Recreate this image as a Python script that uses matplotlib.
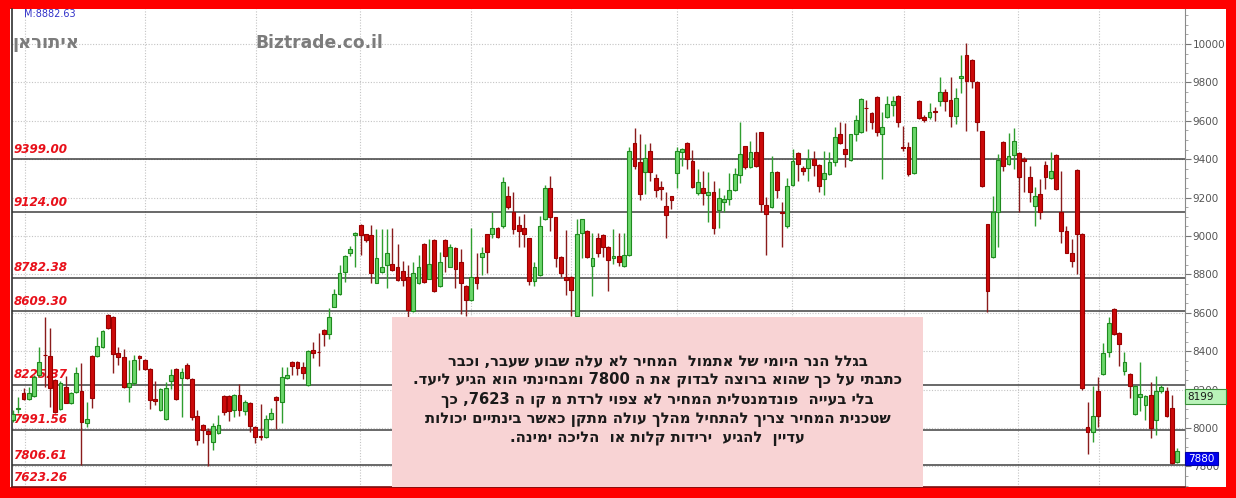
import re
import matplotlib
matplotlib.use("Agg")
import matplotlib.pyplot as plt
from matplotlib.patches import Rectangle
from matplotlib.ticker import MultipleLocator, FixedLocator

# ---------------- data ----------------
opens = [8042, 8099, 8183, 8151, 8167, 8277, 8381, 8376, 8251, 8099, 8214, 8131, 8188, 8193, 8026, 8376, 8376, 8423, 8590, 8580,
         8392, 8371, 8214, 8235, 8376, 8355, 8308, 8151, 8094, 8047, 8245, 8308, 8261, 8329, 8256, 8063, 8016, 7984, 7927, 7974,
         8167, 8167, 8094, 8172, 8089, 8131, 8005, 7958, 7953, 8047, 8162, 8136, 8261, 8345, 8345, 8319, 8225, 8407, 8397, 8512,
         8491, 8632, 8700, 8815, 8909, 9003, 9055, 9008, 9003, 8757, 8815, 8851, 8856, 8836, 8820, 8789, 8611, 8757, 8956, 8778,
         8977, 8742, 8977, 8841, 8940, 8862, 8742, 8668, 8789, 8893, 9008, 9013, 9044, 9050, 9206, 9123, 9055, 9044, 8987, 8768,
         8799, 9086, 9248, 9097, 8893, 8789, 8789, 8585, 9018, 9024, 8846, 8987, 9003, 8945, 8883, 8898, 8846, 8903, 9483, 9384,
         9332, 9441, 9300, 9253, 9154, 9206, 9326, 9436, 9483, 9389, 9222, 9248, 9212, 9227, 9133, 9175, 9191, 9238, 9316, 9467,
         9358, 9436, 9540, 9159, 9149, 9332, 9123, 9050, 9264, 9431, 9352, 9352, 9399, 9368, 9295, 9321, 9384, 9530, 9452, 9394,
         9530, 9540, 9666, 9640, 9723, 9530, 9619, 9681, 9729, 9462, 9462, 9326, 9702, 9619, 9619, 9650, 9702, 9749, 9708, 9624,
         9822, 9943, 9916, 9802, 9546, 9060, 8893, 9123, 9488, 9373, 9420, 9431, 9399, 9305, 9154, 9217, 9368, 9300, 9420, 9123,
         9024, 8914, 9342, 9013, 8005, 7979, 8193, 8282, 8397, 8621, 8496, 8298, 8282, 8073, 8162, 8120, 8172, 8042, 8193, 8193,
         8104, 7822]
highs = [8094, 8162, 8209, 8214, 8277, 8423, 8580, 8522, 8256, 8245, 8272, 8188, 8319, 8339, 8136, 8381, 8475, 8512, 8595, 8582,
         8423, 8413, 8355, 8381, 8381, 8360, 8313, 8245, 8209, 8240, 8308, 8313, 8313, 8339, 8258, 8094, 8021, 8000, 8026, 8068,
         8172, 8172, 8178, 8230, 8146, 8136, 8010, 8125, 8068, 8104, 8165, 8319, 8319, 8350, 8350, 8345, 8407, 8449, 8496, 8517,
         8627, 8726, 8851, 8903, 8950, 9020, 9060, 9013, 9055, 9039, 9034, 9034, 9044, 8956, 8872, 8851, 8862, 8903, 8966, 8982,
         8982, 8919, 8982, 8956, 8945, 8930, 8747, 9044, 8914, 8945, 9013, 9123, 9047, 9305, 9258, 9227, 9102, 9117, 8992, 8862,
         9102, 9264, 9311, 9099, 8898, 9029, 8794, 9086, 9091, 9029, 9018, 9018, 9008, 8950, 9034, 9018, 9018, 9462, 9561, 9530,
         9478, 9483, 9321, 9285, 9227, 9208, 9462, 9457, 9488, 9446, 9347, 9337, 9332, 9285, 9248, 9212, 9326, 9352, 9593, 9469,
         9493, 9540, 9542, 9201, 9415, 9337, 9175, 9300, 9452, 9436, 9363, 9452, 9441, 9373, 9441, 9436, 9567, 9593, 9588, 9532,
         9629, 9718, 9708, 9645, 9729, 9645, 9729, 9729, 9734, 9572, 9488, 9569, 9708, 9629, 9692, 9671, 9828, 9765, 9828, 9770,
         9943, 10005, 9921, 9807, 9548, 9065, 9206, 9426, 9493, 9535, 9561, 9436, 9410, 9363, 9253, 9295, 9389, 9436, 9426, 9337,
         9050, 8982, 9347, 9018, 8136, 8219, 8266, 8444, 8580, 8627, 8498, 8397, 8287, 8225, 8345, 8172, 8240, 8272, 8225, 8214,
         8172, 7896]
lows = [8031, 8078, 8146, 8148, 8162, 8266, 8214, 8110, 8078, 8094, 8128, 8125, 8183, 7807, 8005, 8104, 8371, 8418, 8517, 8287,
        8329, 8210, 8136, 8225, 8303, 8303, 8099, 8120, 8089, 8042, 8204, 8146, 8057, 8256, 8042, 7911, 7922, 7802, 7885, 7969,
        8068, 8037, 8057, 8063, 8068, 7979, 7922, 7937, 7948, 8042, 7995, 8026, 8256, 8277, 8277, 8256, 8219, 8366, 8324, 8428,
        8465, 8632, 8695, 8762, 8898, 8836, 8903, 8971, 8757, 8755, 8809, 8731, 8820, 8768, 8742, 8580, 8606, 8752, 8757, 8775,
        8710, 8736, 8815, 8836, 8731, 8595, 8585, 8663, 8726, 8799, 8809, 8992, 8992, 9044, 9138, 9008, 8945, 8945, 8747, 8742,
        8794, 9081, 9024, 8841, 8789, 8695, 8585, 8580, 8888, 8888, 8689, 8893, 8893, 8715, 8856, 8846, 8841, 8898, 9347, 9185,
        9217, 9285, 9201, 9185, 8992, 9138, 9248, 9363, 9347, 9248, 9212, 9159, 9071, 9013, 9044, 9123, 9159, 9232, 9274, 9347,
        9352, 9358, 9123, 8903, 9144, 9196, 8945, 9044, 9258, 9285, 9316, 9285, 9311, 9227, 9212, 9316, 9363, 9478, 9358, 9389,
        9493, 9538, 9546, 9556, 9520, 9295, 9614, 9624, 9567, 9441, 9311, 9321, 9608, 9593, 9608, 9598, 9676, 9650, 9567, 9582,
        9744, 9546, 9770, 9546, 9253, 8606, 8888, 8945, 9337, 9368, 9347, 9123, 9227, 9175, 9050, 9086, 9243, 9295, 9238, 8966,
        8909, 8841, 8804, 8198, 7864, 7927, 8005, 8277, 8371, 8486, 8324, 8277, 8157, 8068, 8089, 8042, 7948, 7963, 8183, 8057,
        7812, 7817]
closes = [8073, 8102, 8151, 8183, 8266, 8345, 8378, 8209, 8084, 8235, 8131, 8183, 8287, 8031, 8047, 8157, 8428, 8507, 8522, 8386,
          8371, 8214, 8235, 8355, 8366, 8308, 8146, 8141, 8204, 8209, 8277, 8151, 8292, 8261, 8057, 7937, 7990, 7969, 8010, 8016,
          8084, 8089, 8172, 8094, 8136, 8010, 7953, 7953, 8047, 8078, 8146, 8266, 8277, 8324, 8313, 8287, 8402, 8392, 8395, 8491,
          8580, 8700, 8809, 8898, 8930, 9018, 9003, 8977, 8809, 8888, 8841, 8914, 8825, 8773, 8773, 8616, 8809, 8836, 8762, 8856,
          8715, 8862, 8898, 8945, 8830, 8757, 8668, 8789, 8757, 8914, 8919, 9044, 8997, 9279, 9149, 9034, 9024, 9008, 8768, 8841,
          9050, 9248, 9097, 8888, 8809, 8773, 8721, 9013, 9086, 8893, 8883, 8909, 8945, 8877, 8898, 8867, 8903, 9441, 9363, 9217,
          9405, 9332, 9238, 9243, 9107, 9185, 9441, 9452, 9399, 9253, 9279, 9222, 9227, 9044, 9196, 9191, 9238, 9321, 9426, 9358,
          9436, 9363, 9165, 9117, 9332, 9238, 9118, 9258, 9389, 9373, 9337, 9399, 9368, 9258, 9326, 9384, 9514, 9483, 9426, 9530,
          9603, 9713, 9664, 9593, 9540, 9567, 9687, 9702, 9593, 9460, 9321, 9567, 9614, 9603, 9645, 9645, 9749, 9702, 9624, 9718,
          9833, 9807, 9807, 9593, 9258, 8715, 9123, 9394, 9363, 9415, 9493, 9305, 9389, 9227, 9206, 9123, 9305, 9337, 9243, 9024,
          8914, 8872, 9008, 8209, 7979, 8063, 8063, 8392, 8548, 8491, 8439, 8345, 8219, 8219, 8178, 8167, 8000, 8193, 8214, 8063,
          7817, 7880]

level_values = [9399.00, 9124.00, 8782.38, 8609.30, 8225.37, 7991.56, 7806.61, 7623.26]
month_breaks = [2.3, 25.1, 46.1, 65.9, 86.9, 105.9, 126.1, 147.9, 169.2, 190.8, 206.2]
y_ticks = list(range(7800, 10001, 200))
ma_value = "8199"
last_value = "7880"
m_text = "M:8882.63"
title_he = "איתוראן"
site = "Biztrade.co.il"
note_lines = [
    "בגלל הנר היומי של אתמול  המחיר לא עלה שבוע שעבר, וכבר",
    "כתבתי על כך שהוא ברוצה לבדוק את ה 7800 ומבחינתי הוא הגיע ליעד.",
    "בלי בעייה  פונדמנטלית המחיר לא צפוי לרדת מ קו ה 7623, כך",
    "שטכנית המחיר צריך להתחיל מהלך עולה מתקן כאשר בינתיים יכולות",
    "עדיין  להגיע  ירידות קלות או  הליכה ימינה.",
]


def visual(s):
    # matplotlib lays glyphs out left-to-right: reverse Hebrew, keep numbers LTR
    r = s[::-1]
    return re.sub(r"\d+", lambda m: m.group(0)[::-1], r)


W, H = 1236, 498
fig = plt.figure(figsize=(W / 100, H / 100), dpi=100, facecolor="#ff0000")


def fx(px):
    return px / W


def fy(py):
    return 1 - py / H


# white inner panel
fig.patches.append(Rectangle((fx(10), fy(487)), fx(1226) - fx(10), fy(9) - fy(487),
                             transform=fig.transFigure, facecolor="white", edgecolor="none", zorder=-5))

ax = fig.add_axes([fx(12), fy(487), fx(1185) - fx(12), fy(9) - fy(487)])
ax.set_zorder(1)
ax.set_facecolor("white")

n = len(opens)
xs = list(range(n))
ax.set_xlim(-0.19, 222.5)
ax.set_ylim(7693, 10182)

# grid
for yv in y_ticks:
    ax.axhline(yv, color="#c4c4c4", lw=0.8, ls=(0, (1, 1.5)), zorder=1)
for xv in month_breaks:
    ax.axvline(xv, color="#c4c4c4", lw=0.8, ls=(0, (1, 1.5)), zorder=1)

# horizontal levels
for lv in level_values:
    ax.axhline(lv, color="#404040", lw=1.1, zorder=2)
    ypos = max(lv, 7693)
    ax.annotate(f"{lv:.2f}", xy=(0, ypos), xycoords=("axes fraction", "data"),
                xytext=(1, 2.5 if lv > 7693 else 2), textcoords="offset points",
                ha="left", va="bottom", color="#e8101a", fontsize=8.6,
                fontweight="bold", fontstyle="italic", zorder=2)

# candles
up_x, up_b, up_h, dn_x, dn_b, dn_h = [], [], [], [], [], []
for i in xs:
    o, c = opens[i], closes[i]
    lo_b, hi_b = min(o, c), max(o, c)
    h = max(hi_b - lo_b, 3)
    if c >= o:
        up_x.append(i); up_b.append(lo_b); up_h.append(h)
        ax.vlines(i, lows[i], highs[i], color="#2f9e2f", lw=1, zorder=3)
    else:
        dn_x.append(i); dn_b.append(lo_b); dn_h.append(h)
        ax.vlines(i, lows[i], highs[i], color="#8a1c1c", lw=1, zorder=3)
ax.bar(up_x, up_h, bottom=up_b, width=0.72, color="#6ad66a", edgecolor="#1f8a1f", lw=0.8, zorder=4)
ax.bar(dn_x, dn_h, bottom=dn_b, width=0.72, color="#cc0a0a", edgecolor="#9a0000", lw=0.8, zorder=4)

# axes styling
ax.yaxis.tick_right()
ax.yaxis.set_major_locator(FixedLocator(y_ticks))
ax.yaxis.set_minor_locator(MultipleLocator(50))
ax.tick_params(axis="y", which="major", length=4, color="#777777", labelcolor="#555555",
               labelsize=7.5, pad=1.5, direction="out")
ax.tick_params(axis="y", which="minor", length=2.5, color="#999999")
ax.set_yticklabels([str(v) for v in y_ticks])
ax.set_xticks([])
ax.spines["top"].set_visible(False)
ax.spines["left"].set_color("#303030")
ax.spines["bottom"].set_color("#7a1010")
ax.spines["right"].set_color("#8a8a8a")
ax.spines["left"].set_linewidth(1.2)
ax.spines["bottom"].set_linewidth(1.2)

# note box
bx0 = (392 - 12) / (1185 - 12)
bx1 = (923 - 12) / (1185 - 12)
by1 = (487 - 317) / (487 - 9)
ax.add_patch(Rectangle((bx0, 0), bx1 - bx0, by1, transform=ax.transAxes,
                       facecolor="#f8d3d4", edgecolor="none", zorder=6))
ax.text((bx0 + bx1) / 2, (487 - 400) / (487 - 9), "\n".join(visual(l) for l in note_lines),
        transform=ax.transAxes, ha="center", va="center", multialignment="center",
        fontsize=10.6, fontweight="bold", color="#1a1a1a", linespacing=1.27,
        family=["DejaVu Sans"], zorder=7)

# header texts
fig.text(fx(24), fy(14), m_text, color="#3030c8", fontsize=7, ha="left", va="center", zorder=10)
fig.text(fx(12), fy(43), visual(title_he), color="#7c7c7c", fontsize=13, fontweight="bold",
         ha="left", va="center", zorder=10)
fig.text(fx(255), fy(43), site, color="#7c7c7c", fontsize=12.3, fontweight="bold",
         ha="left", va="center", zorder=10)

# right-side value boxes
fig.patches.append(Rectangle((fx(1185), fy(404)), fx(1226) - fx(1185), fy(389) - fy(404),
                             transform=fig.transFigure, facecolor="#b9f3b9", edgecolor="#3a8f3a",
                             lw=0.8, zorder=5))
fig.text(fx(1187), fy(396.5), ma_value, color="#1a1a1a", fontsize=7.5, ha="left", va="center", zorder=6)
fig.patches.append(Rectangle((fx(1185), fy(465)), fx(1218) - fx(1185), fy(452) - fy(465),
                             transform=fig.transFigure, facecolor="#0000ee", edgecolor="#0000aa",
                             lw=0.8, zorder=5))
fig.text(fx(1188), fy(458.5), last_value, color="white", fontsize=7.5, ha="left", va="center", zorder=6)

fig.savefig("out.png", dpi=100, facecolor=fig.get_facecolor())
